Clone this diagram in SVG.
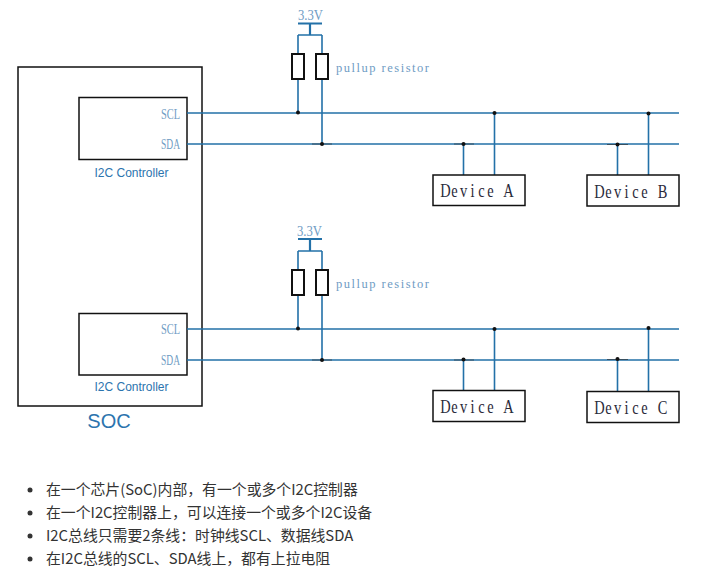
<svg xmlns="http://www.w3.org/2000/svg" width="713" height="576" viewBox="0 0 713 576">
<style>
.box{fill:#fff;stroke:#111;stroke-width:1.5}
.res{fill:#fff;stroke:#111;stroke-width:2}
.w{fill:none;stroke:#2371a8;stroke-width:1.6}
.st{fill:none;stroke:#2371a8;stroke-width:2.2}
.s{fill:none;stroke:#222;stroke-width:1;stroke-opacity:.6}
.d{fill:#111}
.m{font-family:"Liberation Serif",serif;fill:#6f9cc4}
.pin{font-size:14.5px}
.dev{font-family:"Liberation Serif",serif;font-size:19px;fill:#2a2a3a}
.sans{font-family:"Liberation Sans",Arial,sans-serif;fill:#2c74ae}
.li{font-family:"Noto Sans CJK SC","Noto Sans",sans-serif;font-size:14.85px;fill:#333}
</style>
<rect width="713" height="576" fill="#fff"/>
<g id="soc"><rect class="box" x="18" y="67" width="184" height="339"/><text class="sans" x="109" y="428" font-size="20" text-anchor="middle">SOC</text></g>
<g id="controller-1"><rect class="box" x="79" y="97.500" width="108" height="62"/><text class="m pin" x="161" y="119" textLength="19" lengthAdjust="spacingAndGlyphs">SCL</text><text class="m pin" x="161" y="149" textLength="19" lengthAdjust="spacingAndGlyphs">SDA</text><text class="sans" x="131.500" y="177" font-size="12" text-anchor="middle">I2C Controller</text></g>
<g id="controller-2"><rect class="box" x="79" y="313.500" width="108" height="61.500"/><text class="m pin" x="161" y="334" textLength="19" lengthAdjust="spacingAndGlyphs">SCL</text><text class="m pin" x="161" y="365" textLength="19" lengthAdjust="spacingAndGlyphs">SDA</text><text class="sans" x="131.500" y="391" font-size="12" text-anchor="middle">I2C Controller</text></g>
<g id="connectors">
<path class="w" d="M187 113H679M187 144H679M187 329H679M187 360H679"/>
<path class="st" d="M298 23.500H322M310 23.500V35"/><path class="w" d="M298 35H322M298 35V54M322 35V54M298 79V113M322 79V144"/>
<path class="st" d="M298 239H322M310 239V251"/><path class="w" d="M298 251H322M298 251V270M322 251V270M298 295V329M322 295V360"/>
<path class="w" d="M463.500 144V175M494.500 113V175M617.500 144V175M648.500 113V175"/>
<path class="w" d="M463.500 360V390M494.500 329V390M617.500 360V391M648.500 329V391"/>
<path class="s" d="M312 144H332M454 144H474M607 144.500H628M312 360H332M454 360H474M607 359.500H628"/>
<g class="d"><circle cx="298" cy="112.500" r="2"/><circle cx="322" cy="144" r="2"/><circle cx="463.500" cy="144" r="2"/><circle cx="494.500" cy="113" r="2"/><circle cx="617.500" cy="144.500" r="2"/><circle cx="648.500" cy="113.500" r="2"/><circle cx="298" cy="328.500" r="2"/><circle cx="322" cy="360" r="2"/><circle cx="463.500" cy="359.500" r="2"/><circle cx="494.500" cy="329" r="2"/><circle cx="617.500" cy="359" r="2"/><circle cx="648.500" cy="328" r="2"/></g>
</g>
<g id="vcc-1"><text class="m" x="298" y="20" font-size="14" textLength="25" lengthAdjust="spacingAndGlyphs">3.3V</text></g>
<g id="r1"><rect class="res" x="292" y="54" width="12" height="25"/></g>
<g id="r2"><rect class="res" x="316" y="54" width="12" height="25"/></g>
<text class="m" x="336" y="72" font-size="12.500" textLength="93">pullup resistor</text>
<g id="vcc-2"><text class="m" x="297" y="236" font-size="14" textLength="25" lengthAdjust="spacingAndGlyphs">3.3V</text></g>
<g id="r3"><rect class="res" x="292" y="270" width="12" height="25"/></g>
<g id="r4"><rect class="res" x="316" y="270" width="12" height="25"/></g>
<text class="m" x="336" y="288" font-size="12.500" textLength="93">pullup resistor</text>
<g id="device-a1"><rect class="box" x="433" y="175" width="92" height="30.500"/><text class="dev" transform="translate(441 197) scale(.76 1)" x="-.9 13.54 24.85 38.8 49.06 60.9 71 81.98">Device A</text></g>
<g id="device-b"><rect class="box" x="587" y="175" width="92" height="31"/><text class="dev" transform="translate(595 198) scale(.76 1)" x="-.9 13.54 24.85 38.8 49.06 60.9 71 82.48">Device B</text></g>
<g id="device-a2"><rect class="box" x="433" y="390.500" width="92" height="31"/><text class="dev" transform="translate(441 413) scale(.76 1)" x="-.9 13.54 24.85 38.8 49.06 60.9 71 81.98">Device A</text></g>
<g id="device-c"><rect class="box" x="587" y="391.500" width="92" height="31"/><text class="dev" transform="translate(595 414) scale(.76 1)" x="-.9 13.54 24.85 38.8 49.06 60.9 71 82.48">Device C</text></g>
<g id="notes">
<g fill="#333"><circle cx="30" cy="490" r="2.500"/><circle cx="30" cy="513" r="2.500"/><circle cx="30" cy="536" r="2.500"/><circle cx="30" cy="559" r="2.500"/></g>
<text class="li" x="46" y="495">在一个芯片(SoC)内部，有一个或多个I2C控制器</text>
<text class="li" x="46" y="518">在一个I2C控制器上，可以连接一个或多个I2C设备</text>
<text class="li" x="46" y="541">I2C总线只需要2条线：时钟线SCL、数据线SDA</text>
<text class="li" x="46" y="564">在I2C总线的SCL、SDA线上，都有上拉电阻</text>
</g>
</svg>
